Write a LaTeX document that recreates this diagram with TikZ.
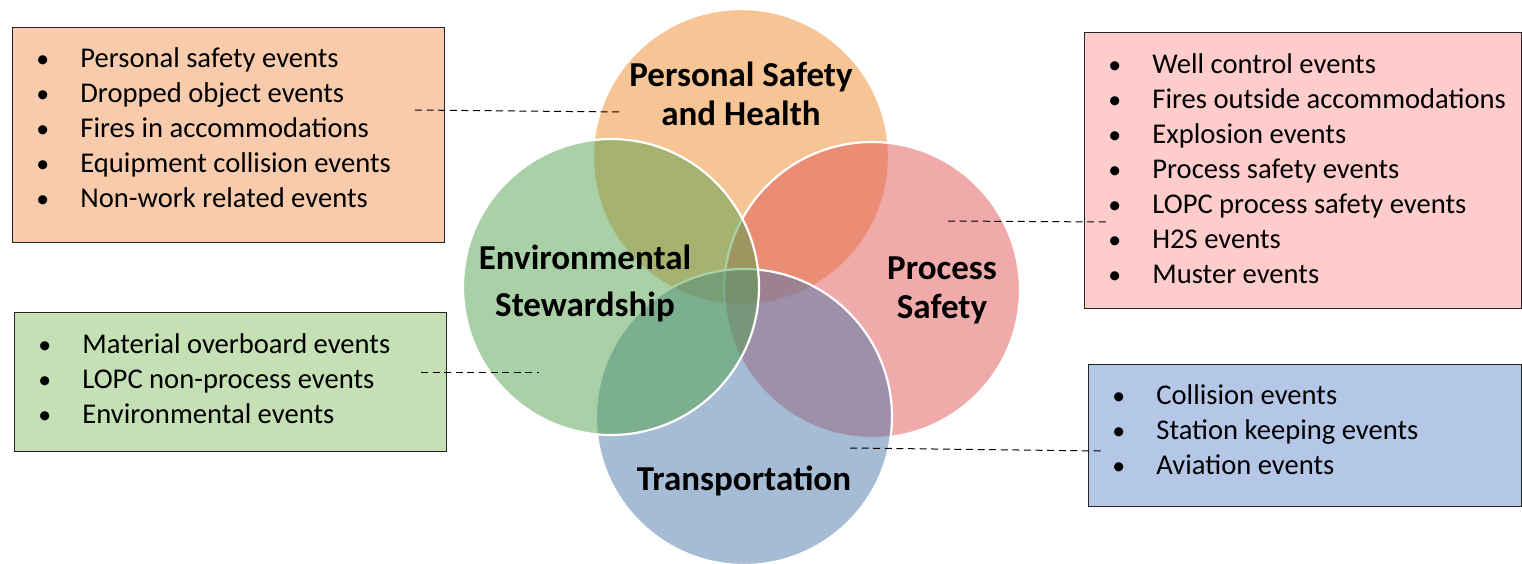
\documentclass[tikz,border=0pt]{standalone}
\usepackage{fontspec}
\setmainfont{Carlito}
\usetikzlibrary{positioning}

\definecolor{vorange}{RGB}{239,139,43}
\definecolor{vgreen}{RGB}{83,161,77}
\definecolor{vred}{RGB}{225,85,85}
\definecolor{vblue}{RGB}{77,119,169}
\definecolor{borange}{RGB}{248,203,173}
\definecolor{bred}{RGB}{255,204,204}
\definecolor{bgreen}{RGB}{197,224,180}
\definecolor{bblue}{RGB}{180,199,231}

\newcommand{\evb}{\makebox[22pt][l]{\scalebox{0.9}{\textbullet}}}

\tikzset{
  venn/.style={circle, minimum size=148pt, inner sep=0pt, fill opacity=0.5,
    draw=white, line width=1.1pt},
  title/.style={font=\fontsize{17.5pt}{19.5pt}\selectfont\bfseries, align=center, inner sep=0pt},
  evbox/.style={draw=black!85, line width=0.6pt, anchor=north west, inner sep=0pt},
  evlist/.style={font=\fontsize{14.3pt}{17.5pt}\selectfont, align=left, inner sep=0pt},
  link/.style={dash pattern=on 3.5pt off 2.3pt, line width=0.5pt}
}

\begin{document}
\begin{tikzpicture}[x=0.5pt, y=-0.5pt]
\useasboundingbox (0,0) rectangle (1522,563);

% the four circles
\node[venn, fill=vorange] (psh) at (741,157) {};
\node[venn, fill=vred] (ps) at (872,290) {};
\node[venn, fill=vblue] (tr) at (744,417) {};
\node[venn, fill=vgreen] (es) at (611,287) {};

\node[title] (pshlabel) at (741,94) {Personal Safety\\and Health};
\node[title, font=\fontsize{17.5pt}{23.5pt}\selectfont\bfseries] (eslabel) at (585,283) {Environmental\\Stewardship};
\node[title] (pslabel) at (942,290) {Process\\Safety};
\node[title] (trlabel) at (744,481) {Transportation};

% event boxes
\node[evbox, fill=borange, minimum width=216pt, minimum height=107.5pt] (pshbox) at (12,27) {};
\node[evlist, right=12pt of pshbox.west, yshift=3.5pt] (pshlist) {%
  \evb Personal safety events\\
  \evb Dropped object events\\
  \evb Fires in accommodations\\
  \evb Equipment collision events\\
  \evb Non-work related events};

\node[evbox, fill=bred, minimum width=218.5pt, minimum height=138pt] (psbox) at (1084,32) {};
\node[evlist, right=12pt of psbox.west, yshift=1pt] (pslist) {%
  \evb Well control events\\
  \evb Fires outside accommodations\\
  \evb Explosion events\\
  \evb Process safety events\\
  \evb LOPC process safety events\\
  \evb H2S events\\
  \evb Muster events};

\node[evbox, fill=bgreen, minimum width=216pt, minimum height=69.5pt] (esbox) at (14,312) {};
\node[evlist, right=12pt of esbox.west, yshift=1.5pt] (eslist) {%
  \evb Material overboard events\\
  \evb LOPC non-process events\\
  \evb Environmental events};

\node[evbox, fill=bblue, minimum width=216.5pt, minimum height=71pt] (trbox) at (1088,364) {};
\node[evlist, right=12pt of trbox.west, yshift=3pt] (trlist) {%
  \evb Collision events\\
  \evb Station keeping events\\
  \evb Aviation events};

% dashed links
\coordinate (pshA) at (415,110); \coordinate (pshB) at (622,112);
\coordinate (psA) at (948,221); \coordinate (psB) at (1108,222);
\coordinate (esA) at (421,372); \coordinate (esB) at (539,372);
\coordinate (trA) at (850,448); \coordinate (trB) at (1103,451);
\draw[link] (pshA) -- (pshB);
\draw[link] (psA) -- (psB);
\draw[link] (esA) -- (esB);
\draw[link] (trA) -- (trB);
\end{tikzpicture}
\end{document}
